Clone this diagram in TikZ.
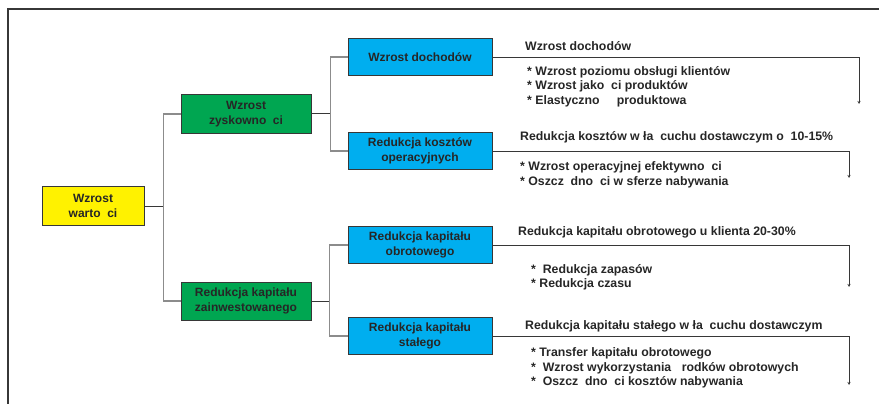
\documentclass[tikz,border=0pt]{standalone}
\usepackage{fontspec}
\setmainfont{Liberation Sans}
\usepackage{xcolor}
\usetikzlibrary{arrows.meta,positioning}
\definecolor{zolty}{RGB}{255,242,0}
\definecolor{zielony}{RGB}{0,166,81}
\definecolor{niebieski}{RGB}{0,174,239}
\definecolor{ramka}{RGB}{55,55,55}
\definecolor{szary}{RGB}{140,140,140}
\newcommand{\luka}{\hspace{.55em}}
\begin{document}
\begin{tikzpicture}[x=1pt,y=-1pt,>=Stealth,
 box/.style={draw=ramka,line width=1pt,align=center,inner sep=2pt,
  font=\fontsize{12}{14.5}\selectfont\bfseries,text=black!85},
 opis/.style={anchor=west,align=left,inner sep=0pt,
  font=\fontsize{12.3}{14.5}\selectfont\bfseries,text=black!85},
 trzon/.style={ramka,line width=1pt},
 galaz/.style={szary,line width=1.2pt},
 strzalka/.style={ramka,line width=.8pt,-{Stealth[length=3pt,width=3pt]}}]
\useasboundingbox (0,0) rectangle (879,404);
\draw[ramka,line width=1.5pt](8,404)--(8,9)--(879,9);
\node[box,fill=zolty,minimum width=102pt,minimum height=39pt](wartosc)at(93,206){Wzrost\\warto\luka ci};
\node[box,fill=zielony,minimum width=130pt,minimum height=38pt](zysk)at(246,114){Wzrost\\zyskowno\luka ci};
\node[box,fill=zielony,minimum width=130pt,minimum height=38pt](kapital)at(246,301){Redukcja kapitału\\zainwestowanego};
\node[box,fill=niebieski,minimum width=144pt,minimum height=37pt](doch)at(420,57){Wzrost dochodów};
\node[box,fill=niebieski,minimum width=144pt,minimum height=37pt](koszt)at(420,151){Redukcja kosztów\\operacyjnych};
\node[box,fill=niebieski,minimum width=144pt,minimum height=37pt](obrot)at(420,245){Redukcja kapitału\\obrotowego};
\node[box,fill=niebieski,minimum width=144pt,minimum height=37pt](staly)at(420,336){Redukcja kapitału\\stałego};
\draw[trzon](wartosc.east)--+(19,0);
\draw[galaz](wartosc.east)++(19,0)|-(zysk.west);
\draw[galaz](wartosc.east)++(19,0)|-(kapital.west);
\draw[trzon](zysk.east)--+(19,0);
\draw[galaz](zysk.east)++(19,0)|-(doch.west);
\draw[galaz](zysk.east)++(19,0)|-(koszt.west);
\draw[trzon](kapital.east)--+(18,0);
\draw[galaz](kapital.east)++(18,0)|-(obrot.west);
\draw[galaz](kapital.east)++(18,0)|-(staly.west);
\coordinate(k1)at(859,104);
\coordinate(k2)at(849,178);
\coordinate(k3)at(849,287);
\coordinate(k4)at(849,385);
\draw[strzalka](doch.east)-|(k1);
\draw[strzalka](koszt.east)-|(k2);
\draw[strzalka](obrot.east)-|(k3);
\draw[strzalka](staly.east)-|(k4);
\node[opis](t1)at(525,46){Wzrost dochodów};
\node[opis](l1)at(527,86.5){* Wzrost poziomu obsługi klientów\\* Wzrost jako\luka ci produktów\\* Elastyczno\hspace{1.4em}produktowa};
\node[opis](t2)at(520,137){Redukcja kosztów w ła\luka cuchu dostawczym o\luka 10-15\%};
\node[opis](l2)at(520,175){* Wzrost operacyjnej efektywno\luka ci\\* Oszcz\luka dno\luka ci w sferze nabywania};
\node[opis](t3)at(518,232){Redukcja kapitału obrotowego u klienta 20-30\%};
\node[opis](l3)at(531,277.5){*\ \ Redukcja zapasów\\* Redukcja czasu};
\node[opis](t4)at(525,326){Redukcja kapitału stałego w ła\luka cuchu dostawczym};
\node[opis](l4)at(531,368){* Transfer kapitału obrotowego\\*\ \ Wzrost wykorzystania\hspace{.85em}rodków obrotowych\\*\ \ Oszcz\luka dno\luka ci kosztów nabywania};
\end{tikzpicture}
\end{document}
